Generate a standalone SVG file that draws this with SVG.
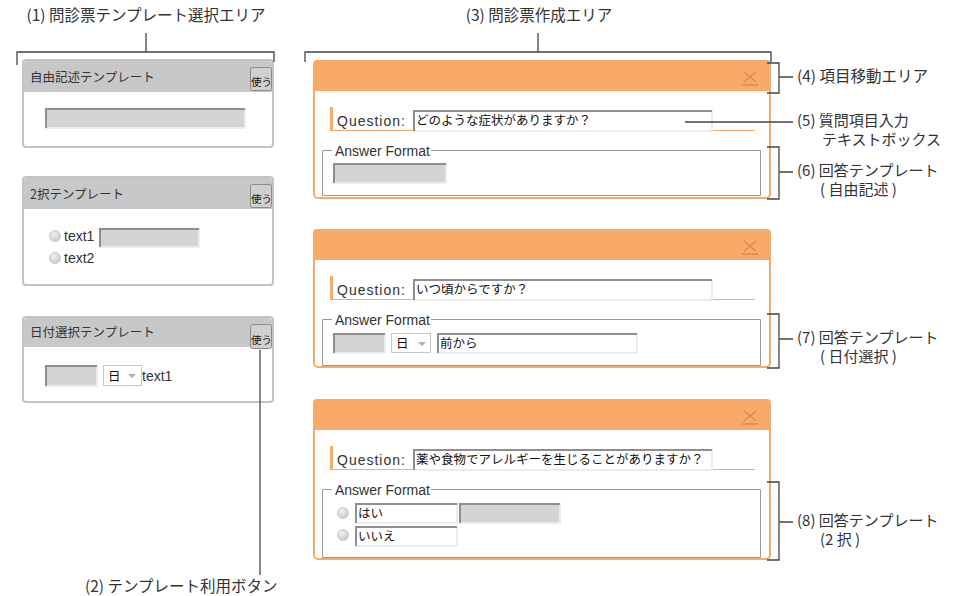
<svg xmlns="http://www.w3.org/2000/svg" width="964" height="596" viewBox="0 0 964 596">
<defs>
<style>
.lbl{font-family:"Noto Sans CJK JP","Noto Sans",sans-serif;font-size:15.5px;fill:#333}
.lbl2{font-family:"Noto Sans CJK JP","Noto Sans",sans-serif;font-size:15px;fill:#333}
.ui{font-family:"Noto Sans CJK JP","Noto Sans",sans-serif;font-size:12.5px;fill:#333}
.uis{font-family:"Noto Sans CJK JP","Noto Sans",sans-serif;font-size:12.5px;fill:#111}
.lat{font-family:"Liberation Sans","Noto Sans CJK JP",sans-serif;font-size:14px;fill:#333}
.q{font-family:"Liberation Sans","Noto Sans CJK JP",sans-serif;font-size:14px;fill:#333;letter-spacing:1px}
.btn{font-family:"Noto Sans CJK JP",sans-serif;font-size:10.5px;fill:#111}
.ln{fill:none;stroke:#444;stroke-width:1.3}
.panel{fill:#fff;stroke:#c4c4c4;stroke-width:2}
.phead{fill:#c8c8c8}
.bt{fill:#d0d0d0;stroke:#8a8a8a;stroke-width:1}
.gin{fill:#d4d4d6}
.win{fill:#fff}
.bd1{fill:none;stroke:#8e8e8e;stroke-width:2}
.bd2{fill:none;stroke:#ececec;stroke-width:2}
.form{fill:#fff;stroke:#f8aa68;stroke-width:2}
.fhead{fill:#f8aa68}
.obar{fill:#f8aa68}
.oline{stroke:#f8aa68;stroke-width:1;fill:none}
.fs{fill:none;stroke:#9a9a9a;stroke-width:1}
.x{stroke:#d98a55;stroke-width:1.3;fill:none}
.sel{fill:#fff;stroke:#c8c8c8;stroke-width:1}
.tri{fill:#b0b0b0}
</style>
<radialGradient id="rg" cx="0.4" cy="0.35" r="0.7">
<stop offset="0" stop-color="#f2f2f2"/>
<stop offset="1" stop-color="#c4c4c4"/>
</radialGradient>
</defs>
<rect width="964" height="596" fill="#fff"/>

<!-- Left panels -->
<g id="panel-free">
<rect class="panel" x="23" y="60" width="250" height="87" rx="3"/>
<path class="phead" d="M24 92 V64 a3 3 0 0 1 3 -3 H269 a3 3 0 0 1 3 3 V92 Z"/>
<text class="ui" x="30" y="82">自由記述テンプレート</text>
<rect class="bt" x="250.5" y="67.5" width="21" height="23" rx="2"/>
<text class="btn" x="251" y="86">使う</text>
<rect class="gin" x="45" y="108" width="200" height="20"/>
<path class="bd2" d="M45 128 H245 V108"/>
<path class="bd1" d="M46 128 V109 H245"/>
</g>

<g id="panel-two">
<rect class="panel" x="23" y="177" width="250" height="108" rx="3"/>
<path class="phead" d="M24 209 V181 a3 3 0 0 1 3 -3 H269 a3 3 0 0 1 3 3 V209 Z"/>
<text class="ui" x="30" y="199">2択テンプレート</text>
<rect class="bt" x="250.5" y="184.5" width="21" height="23" rx="2"/>
<text class="btn" x="251" y="203">使う</text>
<circle cx="55" cy="236" r="5.5" fill="url(#rg)" stroke="#cfcfcf"/>
<text class="lat" x="64" y="241">text1</text>
<rect class="gin" x="99" y="228" width="100" height="19"/>
<path class="bd2" d="M99 247 H199 V228"/>
<path class="bd1" d="M100 247 V229 H199"/>
<circle cx="55" cy="258" r="5.5" fill="url(#rg)" stroke="#cfcfcf"/>
<text class="lat" x="64" y="263">text2</text>
</g>

<g id="panel-date">
<rect class="panel" x="23" y="317" width="250" height="85" rx="3"/>
<path class="phead" d="M24 347 V321 a3 3 0 0 1 3 -3 H269 a3 3 0 0 1 3 3 V347 Z"/>
<text class="ui" x="30" y="337">日付選択テンプレート</text>
<rect class="bt" x="250.5" y="324.5" width="21" height="24" rx="2"/>
<text class="btn" x="251" y="344">使う</text>
<rect class="gin" x="45" y="365" width="52" height="21"/>
<path class="bd2" d="M45 386 H97 V365"/>
<path class="bd1" d="M46 386 V366 H97"/>
<rect class="sel" x="103.5" y="365.5" width="38" height="20"/>
<text class="uis" x="108" y="381">日</text>
<path class="tri" d="M128 374 H136 L132 378 Z"/>
<text class="lat" x="142" y="381">text1</text>
</g>

<!-- Forms -->
<g id="form-1">
<rect class="form" x="314" y="61" width="456" height="137" rx="4"/>
<path class="fhead" d="M313 91 V64 a4 4 0 0 1 4 -4 H767 a4 4 0 0 1 4 4 V91 Z"/>
<path class="x" d="M744 72 L756 82 M756 72 L744 82 M742 85 H758"/>
<rect class="obar" x="330" y="107" width="3" height="24"/>
<path class="oline" d="M330 130.5 H755"/>
<text class="q" x="337" y="126">Question:</text>
<rect class="win" x="413" y="110" width="299" height="21"/>
<path class="bd2" d="M413 131 H712 V110"/>
<path class="bd1" d="M414 131 V111 H712"/>
<text class="uis" x="416" y="125">どのような症状がありますか？</text>
<path class="fs" d="M332 150.5 H322.5 V195.5 H760.5 V150.5 H431"/>
<text class="lat" x="335" y="156">Answer Format</text>
<rect class="gin" x="333" y="163" width="113" height="20"/>
<path class="bd2" d="M333 183 H446 V163"/>
<path class="bd1" d="M334 183 V164 H446"/>
</g>

<g id="form-2">
<rect class="form" x="314" y="230" width="456" height="137" rx="4"/>
<path class="fhead" d="M313 260 V233 a4 4 0 0 1 4 -4 H767 a4 4 0 0 1 4 4 V260 Z"/>
<path class="x" d="M744 241 L756 251 M756 241 L744 251 M742 254 H758"/>
<rect class="obar" x="330" y="276" width="3" height="24"/>
<path class="oline" d="M330 299.5 H755"/>
<text class="q" x="337" y="295">Question:</text>
<rect class="win" x="413" y="279" width="299" height="21"/>
<path class="bd2" d="M413 300 H712 V279"/>
<path class="bd1" d="M414 300 V280 H712"/>
<text class="uis" x="416" y="294">いつ頃からですか？</text>
<path class="fs" d="M332 319.5 H322.5 V365.5 H760.5 V319.5 H431"/>
<text class="lat" x="335" y="325">Answer Format</text>
<rect class="gin" x="333" y="333" width="52" height="20"/>
<path class="bd2" d="M333 353 H385 V333"/>
<path class="bd1" d="M334 353 V334 H385"/>
<rect class="sel" x="391.5" y="333.5" width="39" height="19"/>
<text class="uis" x="396" y="348">日</text>
<path class="tri" d="M418 342 H426 L422 346 Z"/>
<rect class="win" x="437" y="333" width="200" height="20"/>
<path class="bd2" d="M437 353 H637 V333"/>
<path class="bd1" d="M438 353 V334 H637"/>
<text class="uis" x="440" y="348">前から</text>
</g>

<g id="form-3">
<rect class="form" x="314" y="400" width="456" height="159" rx="4"/>
<path class="fhead" d="M313 430 V403 a4 4 0 0 1 4 -4 H767 a4 4 0 0 1 4 4 V430 Z"/>
<path class="x" d="M744 411 L756 421 M756 411 L744 421 M742 424 H758"/>
<rect class="obar" x="330" y="446" width="3" height="24"/>
<path class="oline" d="M330 469.5 H755"/>
<text class="q" x="337" y="465">Question:</text>
<rect class="win" x="413" y="449" width="299" height="21"/>
<path class="bd2" d="M413 470 H712 V449"/>
<path class="bd1" d="M414 470 V450 H712"/>
<text class="uis" x="416" y="464">薬や食物でアレルギーを生じることがありますか？</text>
<path class="fs" d="M332 489.5 H322.5 V557.5 H760.5 V489.5 H431"/>
<text class="lat" x="335" y="495">Answer Format</text>
<circle cx="343" cy="513" r="5.5" fill="url(#rg)" stroke="#cfcfcf"/>
<rect class="win" x="355" y="503" width="102" height="20"/>
<path class="bd2" d="M355 523 H457 V503"/>
<path class="bd1" d="M356 523 V504 H457"/>
<text class="uis" x="358" y="518">はい</text>
<rect class="gin" x="459" y="503" width="101" height="20"/>
<path class="bd2" d="M459 523 H560 V503"/>
<path class="bd1" d="M460 523 V504 H560"/>
<circle cx="343" cy="535" r="5.5" fill="url(#rg)" stroke="#cfcfcf"/>
<rect class="win" x="355" y="526" width="102" height="20"/>
<path class="bd2" d="M355 546 H457 V526"/>
<path class="bd1" d="M356 546 V527 H457"/>
<text class="uis" x="358" y="541">いいえ</text>
</g>

<!-- Connectors -->
<g id="connectors">
<path class="ln" d="M17 65 V52 H274 V62 M146 33 V52"/>
<path class="ln" d="M305 62 V52 H771 V62 M538 33 V52"/>
<path class="ln" d="M260 350 V575"/>
<path class="ln" d="M767 63 H779 V93 H767 M779 77 H793"/>
<path class="ln" d="M685 122 H793"/>
<path class="ln" d="M767 147 H779 V199 H767 M779 172 H793"/>
<path class="ln" d="M767 314 H779 V368 H767 M779 339 H793"/>
<path class="ln" d="M767 482 H779 V560 H767 M779 522 H793"/>
</g>

<!-- Labels -->
<g id="labels">
<text class="lbl" x="146" y="21" text-anchor="middle">(1) 問診票テンプレート選択エリア</text>
<text class="lbl" x="539" y="21" text-anchor="middle">(3) 問診票作成エリア</text>
<text class="lbl" x="85" y="592">(2) テンプレート利用ボタン</text>
<text class="lbl" x="797" y="82">(4) 項目移動エリア</text>
<text class="lbl2" x="797" y="126">(5) 質問項目入力</text>
<text class="lbl2" x="822" y="145">テキストボックス</text>
<text class="lbl2" x="797" y="176">(6) 回答テンプレート</text>
<text class="lbl2" x="820" y="195">( 自由記述 )</text>
<text class="lbl2" x="797" y="343">(7) 回答テンプレート</text>
<text class="lbl2" x="820" y="362">( 日付選択 )</text>
<text class="lbl2" x="797" y="526">(8) 回答テンプレート</text>
<text class="lbl2" x="820" y="545">(2 択 )</text>
</g>
</svg>
